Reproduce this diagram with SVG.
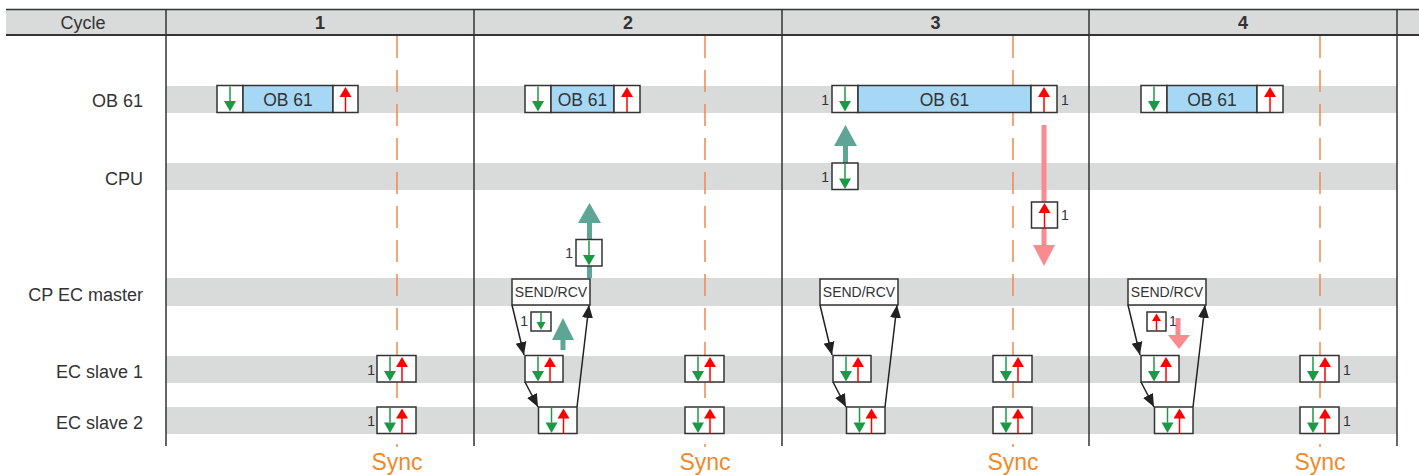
<svg xmlns="http://www.w3.org/2000/svg" xmlns:xlink="http://www.w3.org/1999/xlink" width="1419" height="475" viewBox="0 0 1419 475">
<style>
text{font-family:"Liberation Sans",Arial,sans-serif;fill:#333}
.lbl{font-size:18px;text-anchor:end}
.hdr{font-size:18px;text-anchor:middle}
.num{font-size:18px;text-anchor:middle;font-weight:bold}
.one{font-size:14px}
.band{fill:#d9dada}
.grid{stroke:#333;stroke-width:1.5;fill:none}
.sync{stroke:#f0894a;stroke-width:1.5;stroke-dasharray:22 12;fill:none}
.synct{font-size:23px;fill:#ef8a2c;text-anchor:middle}
.box{fill:#fff;stroke:#333;stroke-width:1.5}
.ob{fill:#a6d8f5;stroke:#333;stroke-width:1.5}
.sr{font-size:14px;text-anchor:middle}
.obt{font-size:17.5px;text-anchor:middle}
.conn{stroke:#222;stroke-width:1.5;fill:none;marker-end:url(#ah)}
.teal{fill:#5fa595}
.pink{fill:#f98a8e}
</style>
<defs>
<marker id="ah" markerUnits="userSpaceOnUse" markerWidth="14" markerHeight="14" viewBox="0 0 14 14" refX="13" refY="7" orient="auto">
<path d="M0,1.5 L13,7 L0,12.5 Z" fill="#222"/>
</marker>
<g id="dn"><line x1="0" y1="1" x2="0" y2="15.5" stroke="#1a9a45" stroke-width="1.5"/><polygon points="-6,15.5 6,15.5 0,26" fill="#1a9a45"/></g>
<g id="up"><line x1="0" y1="11" x2="0" y2="26.5" stroke="#f00" stroke-width="1.5"/><polygon points="0,1.5 -6,11.5 6,11.5" fill="#f00"/></g>
<g id="dns"><line x1="0" y1="1" x2="0" y2="10" stroke="#1a9a45" stroke-width="1.5"/><polygon points="-4.5,10 4.5,10 0,18" fill="#1a9a45"/></g>
<g id="ups"><line x1="0" y1="9" x2="0" y2="18.5" stroke="#f00" stroke-width="1.5"/><polygon points="0,1.5 -4.5,9 4.5,9" fill="#f00"/></g>
</defs>

<g id="background">
<rect x="6" y="9.5" width="1413" height="25.5" class="band"/>
<rect x="166" y="86" width="1231" height="27" class="band"/>
<rect x="166" y="163" width="1231" height="27" class="band"/>
<rect x="166" y="278" width="1231" height="28" class="band"/>
<rect x="166" y="356" width="1231" height="27" class="band"/>
<rect x="166" y="407" width="1231" height="27" class="band"/>
<line x1="6" y1="9.5" x2="1419" y2="9.5" class="grid"/>
<line x1="6" y1="35" x2="1419" y2="35" stroke="#333" stroke-width="2"/>
<line x1="166" y1="9" x2="166" y2="446" class="grid"/>
<line x1="474" y1="9" x2="474" y2="446" class="grid"/>
<line x1="782" y1="9" x2="782" y2="446" class="grid"/>
<line x1="1089" y1="9" x2="1089" y2="446" class="grid"/>
<line x1="1397" y1="9" x2="1397" y2="446" class="grid"/>
<text x="83" y="28.5" class="hdr">Cycle</text>
<text x="320" y="28.5" class="num">1</text>
<text x="628" y="28.5" class="num">2</text>
<text x="935.5" y="28.5" class="num">3</text>
<text x="1243" y="28.5" class="num">4</text>
<text x="143" y="107" class="lbl">OB 61</text>
<text x="143" y="184.5" class="lbl">CPU</text>
<text x="143" y="301" class="lbl">CP EC master</text>
<text x="143" y="377.5" class="lbl">EC slave 1</text>
<text x="143" y="428.5" class="lbl">EC slave 2</text>
</g>

<g id="sync">
<line x1="397" y1="36" x2="397" y2="447" class="sync"/>
<line x1="705" y1="36" x2="705" y2="447" class="sync"/>
<line x1="1013" y1="36" x2="1013" y2="447" class="sync"/>
<line x1="1320" y1="36" x2="1320" y2="447" class="sync"/>
<text x="397" y="470" class="synct">Sync</text>
<text x="705" y="470" class="synct">Sync</text>
<text x="1013" y="470" class="synct">Sync</text>
<text x="1320" y="470" class="synct">Sync</text>
</g>

<g id="connectors">
<rect x="587" y="223" width="5" height="55" class="teal"/>
<polygon points="578,223 601,223 589.5,203" class="teal"/>
<rect x="843" y="146" width="5" height="17" class="teal"/>
<polygon points="834,146 857,146 845.5,125" class="teal"/>
<rect x="1041.5" y="125" width="5" height="120" class="pink"/>
<polygon points="1033,245 1055,245 1044,266" class="pink"/>
<rect x="560.5" y="340" width="5" height="10" class="teal"/>
<polygon points="552,340 574,340 563,318" class="teal"/>
<rect x="1175.5" y="318" width="5" height="17" class="pink"/>
<polygon points="1168,335 1190,335 1179,349" class="pink"/>
<path d="M512,305 L524,355" class="conn"/>
<path d="M525,382 L538,407" class="conn"/>
<path d="M577,407 L589,305" class="conn"/>
<path d="M820,305 L832,355" class="conn"/>
<path d="M833,382 L846,407" class="conn"/>
<path d="M885,407 L897,305" class="conn"/>
<path d="M1128,305 L1140,355" class="conn"/>
<path d="M1141,382 L1154,407" class="conn"/>
<path d="M1193,407 L1205,305" class="conn"/>
</g>

<g id="ob61-1">
<rect x="217" y="85.5" width="26" height="27" class="box"/><use href="#dn" x="230" y="85.5"/>
<rect x="243" y="85.5" width="90" height="27" class="ob"/><text x="288" y="105.5" class="obt">OB 61</text>
<rect x="333" y="85.5" width="25" height="27" class="box"/><use href="#up" x="345.5" y="85.5"/>
</g>
<g id="ob61-2">
<rect x="525" y="85.5" width="26" height="27" class="box"/><use href="#dn" x="538" y="85.5"/>
<rect x="551" y="85.5" width="63" height="27" class="ob"/><text x="582.5" y="105.5" class="obt">OB 61</text>
<rect x="614" y="85.5" width="26" height="27" class="box"/><use href="#up" x="627" y="85.5"/>
</g>
<g id="ob61-3">
<text x="829" y="104.5" class="one" text-anchor="end">1</text>
<rect x="832" y="85.5" width="26" height="27" class="box"/><use href="#dn" x="845" y="85.5"/>
<rect x="858" y="85.5" width="173" height="27" class="ob"/><text x="944.5" y="105.5" class="obt">OB 61</text>
<rect x="1031" y="85.5" width="26" height="27" class="box"/><use href="#up" x="1044" y="85.5"/>
<text x="1061" y="104.5" class="one">1</text>
</g>
<g id="ob61-4">
<rect x="1141" y="85.5" width="26" height="27" class="box"/><use href="#dn" x="1154" y="85.5"/>
<rect x="1167" y="85.5" width="90" height="27" class="ob"/><text x="1212" y="105.5" class="obt">OB 61</text>
<rect x="1257" y="85.5" width="26" height="27" class="box"/><use href="#up" x="1270" y="85.5"/>
</g>

<g id="cpu-3">
<text x="829" y="181.5" class="one" text-anchor="end">1</text>
<rect x="832" y="163" width="26" height="26.5" class="box"/><use href="#dn" x="845" y="163"/>
</g>
<g id="cpu-send-3">
<rect x="1031.5" y="202" width="26" height="26" class="box"/><use href="#up" x="1044.5" y="201.5"/>
<text x="1061" y="219.5" class="one">1</text>
</g>
<g id="cpu-recv-2">
<text x="573" y="257.5" class="one" text-anchor="end">1</text>
<rect x="576" y="239.5" width="26" height="26.5" class="box"/><use href="#dn" x="589" y="239.5"/>
</g>

<g id="master-2">
<rect x="512" y="279" width="78" height="26" class="box"/><text x="551" y="297" class="sr">SEND/RCV</text>
</g>
<g id="master-3">
<rect x="820" y="279" width="78" height="26" class="box"/><text x="859" y="297" class="sr">SEND/RCV</text>
</g>
<g id="master-4">
<rect x="1128" y="279" width="78" height="26" class="box"/><text x="1167" y="297" class="sr">SEND/RCV</text>
</g>

<g id="cp-small-2">
<text x="528" y="326" class="one" text-anchor="end" font-size="11">1</text>
<rect x="531" y="312" width="20" height="19" class="box"/><use href="#dns" x="541" y="312"/>
</g>
<g id="cp-small-4">
<rect x="1147" y="312" width="19" height="19" class="box"/><use href="#ups" x="1156.5" y="312"/>
<text x="1169" y="326" class="one" font-size="11">1</text>
</g>

<g id="slave1-1"><text x="375" y="374.5" class="one" text-anchor="end">1</text><rect x="377" y="355.5" width="39" height="26.5" class="box"/><use href="#dn" x="390" y="355.5"/><use href="#up" x="402" y="355.5"/></g>
<g id="slave2-1"><text x="375" y="425.5" class="one" text-anchor="end">1</text><rect x="377" y="407" width="39" height="26.5" class="box"/><use href="#dn" x="390" y="407"/><use href="#up" x="402" y="407"/></g>

<g id="slave1-2a"><rect x="525" y="355.5" width="38" height="26.5" class="box"/><use href="#dn" x="538" y="355.5"/><use href="#up" x="550" y="355.5"/></g>
<g id="slave2-2a"><rect x="538.5" y="407" width="38.5" height="26.5" class="box"/><use href="#dn" x="551.5" y="407"/><use href="#up" x="563.5" y="407"/></g>
<g id="slave1-2b"><rect x="685" y="355.5" width="39" height="26.5" class="box"/><use href="#dn" x="698" y="355.5"/><use href="#up" x="710" y="355.5"/></g>
<g id="slave2-2b"><rect x="685" y="407" width="39" height="26.5" class="box"/><use href="#dn" x="698" y="407"/><use href="#up" x="710" y="407"/></g>

<g id="slave1-3a"><rect x="833" y="355.5" width="38" height="26.5" class="box"/><use href="#dn" x="846" y="355.5"/><use href="#up" x="858" y="355.5"/></g>
<g id="slave2-3a"><rect x="846.5" y="407" width="38.5" height="26.5" class="box"/><use href="#dn" x="859.5" y="407"/><use href="#up" x="871.5" y="407"/></g>
<g id="slave1-3b"><rect x="993" y="355.5" width="39" height="26.5" class="box"/><use href="#dn" x="1006" y="355.5"/><use href="#up" x="1018" y="355.5"/></g>
<g id="slave2-3b"><rect x="993" y="407" width="39" height="26.5" class="box"/><use href="#dn" x="1006" y="407"/><use href="#up" x="1018" y="407"/></g>

<g id="slave1-4a"><rect x="1141" y="355.5" width="38" height="26.5" class="box"/><use href="#dn" x="1154" y="355.5"/><use href="#up" x="1166" y="355.5"/></g>
<g id="slave2-4a"><rect x="1154.5" y="407" width="38.5" height="26.5" class="box"/><use href="#dn" x="1167.5" y="407"/><use href="#up" x="1179.5" y="407"/></g>
<g id="slave1-4b"><rect x="1300" y="355.5" width="39" height="26.5" class="box"/><use href="#dn" x="1313" y="355.5"/><use href="#up" x="1325" y="355.5"/><text x="1343" y="374.5" class="one">1</text></g>
<g id="slave2-4b"><rect x="1300" y="407" width="39" height="26.5" class="box"/><use href="#dn" x="1313" y="407"/><use href="#up" x="1325" y="407"/><text x="1343" y="425.5" class="one">1</text></g>
</svg>
